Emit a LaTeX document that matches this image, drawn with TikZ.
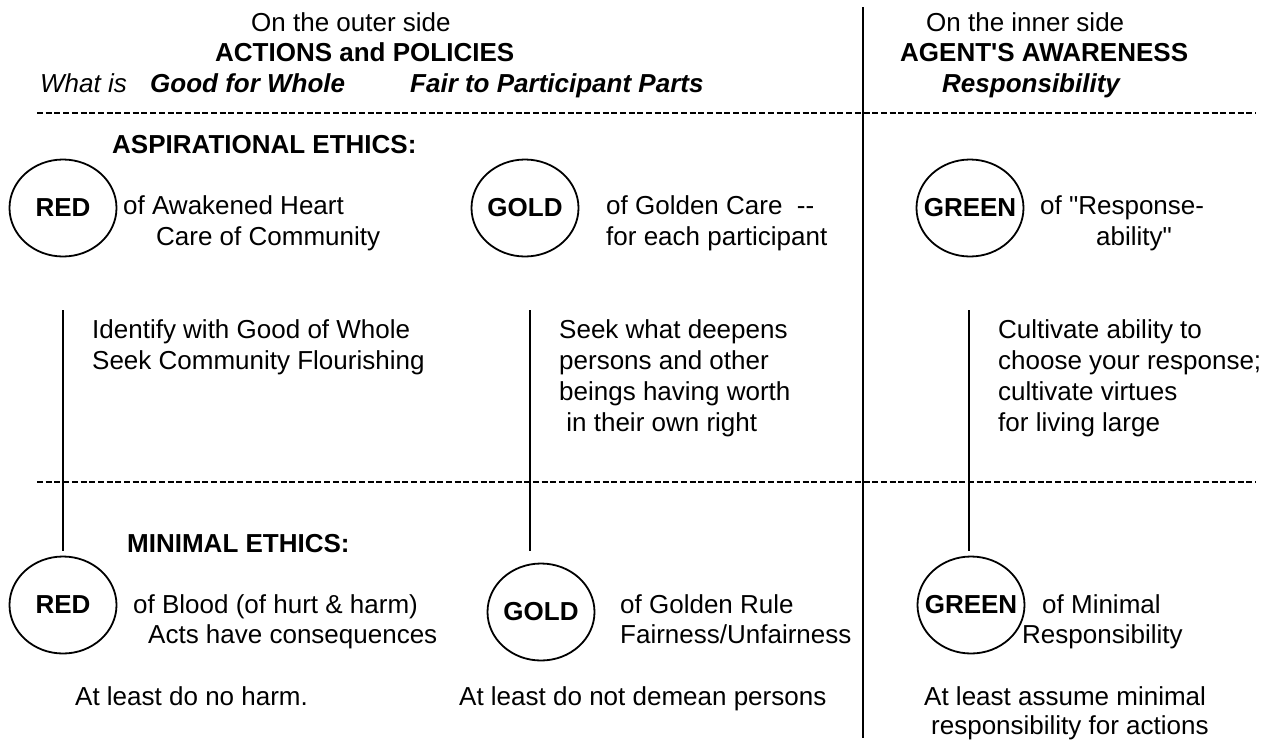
\documentclass[tikz,border=0pt]{standalone}
\usepackage{fontspec}
\setmainfont{Liberation Sans}
\usetikzlibrary{shapes.geometric}
\newcommand\ringtext[1]{\makebox[0pt]{#1}}
\begin{document}
\begin{tikzpicture}[x=1pt,y=-1pt,
  txt/.style={anchor=base west,inner sep=0pt,font=\fontsize{26}{31}\selectfont},
  btxt/.style={txt,font=\fontsize{26}{31}\selectfont\bfseries},
  itxt/.style={txt,font=\fontsize{26}{31}\selectfont\itshape},
  bitxt/.style={txt,font=\fontsize{26}{31}\selectfont\bfseries\itshape},
  ring/.style={draw,ellipse,line width=1.8pt,minimum width=107pt,minimum height=97pt,
    inner sep=0pt,font=\fontsize{26}{31}\selectfont\bfseries},
  rule/.style={dashed,dash pattern=on 6pt off 2.7pt,line width=2.2pt},
  link/.style={line width=1.4pt},
  divider/.style={line width=1.8pt}]
\useasboundingbox (0,0) rectangle (1275,740);

% headings
\node[txt]  (outer)  at (251,31) {On the outer side};
\node[btxt] (acts)   at (215,61) {ACTIONS and POLICIES};
\node[itxt] (whatis) at (40,92)  {What is};
\node[bitxt] (good)  at (150,92) {Good for Whole};
\node[bitxt] (fair)  at (410,92) {Fair to Participant Parts};
\node[txt]  (inner)  at (926,31) {On the inner side};
\node[btxt] (agent)  at (900,61) {AGENT\textquotesingle S AWARENESS};
\node[bitxt] (resp)  at (942,92) {Responsibility};

% separators
\coordinate (d1a) at (37,113);  \coordinate (d1b) at (1256,113);
\coordinate (d2a) at (37,482);  \coordinate (d2b) at (1256,482);
\coordinate (vtop) at (863,7);  \coordinate (vbot) at (863,738);
\draw[rule] (d1a) -- (d1b);
\draw[rule] (d2a) -- (d2b);
\draw[divider] (vtop) -- (vbot);

% aspirational ethics
\node[btxt] (asp) at (112,153) {ASPIRATIONAL ETHICS:};
\node[ring] (redA)   at (63,208)  {\ringtext{RED}};
\node[ring] (goldA)  at (525,208) {\ringtext{GOLD}};
\node[ring] (greenA) at (970,208) {\ringtext{GREEN}};
\node[txt] at (123,214) (redA1) {of Awakened Heart};
\node[txt] at (156,245) (redA2) {Care of Community};
\node[txt] at (606,214) (goldA1) {of Golden Care\ \ -{}-};
\node[txt] at (606,245) (goldA2) {for each participant};
\node[txt] at (1040,214) (greenA1) {of \textquotedbl Response-};
\node[txt] at (1096,245) (greenA2) {ability\textquotedbl};

% middle texts
\node[txt] (redT1) at (92,338) {Identify with Good of Whole};
\node[txt] (redT2) at (92,369) {Seek Community Flourishing};
\node[txt] (goldT1) at (559,338) {Seek what deepens};
\node[txt] (goldT2) at (559,369) {persons and other};
\node[txt] (goldT3) at (559,400) {beings having worth};
\node[txt] (goldT4) at (559,431) {\ in their own right};
\node[txt] (greenT1) at (998,338) {Cultivate ability to};
\node[txt] (greenT2) at (998,369) {choose your response;};
\node[txt] (greenT3) at (998,400) {cultivate virtues};
\node[txt] (greenT4) at (998,431) {for living large};

% minimal ethics
\node[btxt] (mini) at (127,552) {MINIMAL ETHICS:};
\node[ring] (redM)   at (63,605)  {\ringtext{RED}};
\node[ring] (goldM)  at (541,612) {\ringtext{GOLD}};
\node[ring] (greenM) at (971,605) {\ringtext{GREEN}};
\node[txt] (redM1) at (133,613) {of Blood (of hurt \& harm)};
\node[txt] (redM2) at (148,643) {Acts have consequences};
\node[txt] (goldM1) at (620,613) {of Golden Rule};
\node[txt] (goldM2) at (620,643) {Fairness/Unfairness};
\node[txt] (greenM1) at (1042,613) {of Minimal};
\node[txt] (greenM2) at (1022,643) {Responsibility};
\node[txt] (redB)  at (75,705)  {At least do no harm.};
\node[txt] (goldB) at (459,705) {At least do not demean persons};
\node[txt] (greenB1) at (924,705) {At least assume minimal};
\node[txt] (greenB2) at (931,734) {responsibility for actions};

% links between the two levels
\coordinate (redL1) at (63,310);   \coordinate (redL2) at (63,551);
\coordinate (goldL1) at (530,310); \coordinate (goldL2) at (530,551);
\coordinate (greenL1) at (969,310);\coordinate (greenL2) at (969,551);
\draw[link] (redL1) -- (redL2);
\draw[link] (goldL1) -- (goldL2);
\draw[link] (greenL1) -- (greenL2);
\end{tikzpicture}
\end{document}
